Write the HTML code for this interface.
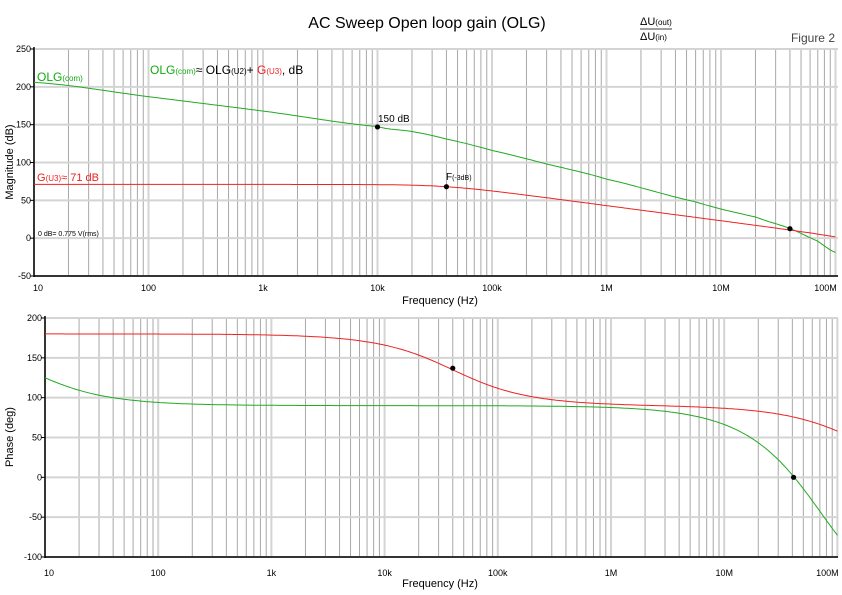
<!DOCTYPE html>
<html><head><meta charset="utf-8"><style>
body{margin:0;background:#fff}
svg{display:block;font-family:"Liberation Sans",Arial,sans-serif}
</style></head><body>
<svg id="s" width="842" height="595" viewBox="0 0 842 595" xmlns="http://www.w3.org/2000/svg">
<text x="427" y="28" font-size="16" text-anchor="middle">AC Sweep  Open loop gain (OLG)</text>
<text x="640" y="25" font-size="11">ΔU<tspan font-size="8">(out)</tspan></text>
<line x1="640" y1="29" x2="672" y2="29" stroke="#000" stroke-width="0.8"/>
<text x="640" y="40" font-size="11">ΔU<tspan font-size="8">(in)</tspan></text>
<text x="835" y="42" font-size="12" fill="#444" text-anchor="end">Figure 2</text>
<g id="g1"></g><g id="g2"></g>
<text x="440" y="304" font-size="11" text-anchor="middle">Frequency (Hz)</text>
<text x="440" y="587" font-size="11" text-anchor="middle">Frequency (Hz)</text>
<text transform="translate(13,162) rotate(-90)" font-size="11" text-anchor="middle">Magnitude (dB)</text>
<text transform="translate(13,437) rotate(-90)" font-size="11" text-anchor="middle">Phase (deg)</text>
<text x="37" y="81" font-size="12" fill="#1a1">OLG<tspan font-size="8">(com)</tspan></text>
<text x="150" y="74" font-size="12"><tspan fill="#1a1">OLG<tspan font-size="8">(com)</tspan></tspan>≈ OLG<tspan font-size="8">(U2)</tspan>+ <tspan fill="#e22">G<tspan font-size="8">(U3)</tspan></tspan>, dB</text>
<text x="37" y="181" font-size="11" fill="#e22">G<tspan font-size="8">(U3)</tspan>≈ 71 dB</text>
<text x="38" y="236" font-size="7">0 dB= 0.775 V(rms)</text>
<text x="378" y="122" font-size="10">150 dB</text>
<text x="446" y="180" font-size="10">F<tspan font-size="7">(-3dB)</tspan></text>
</svg>
<script>
var NS="http://www.w3.org/2000/svg";
function el(p,t,a){var e=document.createElementNS(NS,t);for(var k in a)e.setAttribute(k,a[k]);p.appendChild(e);return e;}
function plot(g,x0,dec,yt,yb,ymax,ymin,step,labs,xlabY,xlabs){
 var R=838;
 var X=f=>x0+Math.log10(f/10)*dec;
 var Y=v=>yt+(ymax-v)/(ymax-ymin)*(yb-yt);
 for(var d=0;d<8;d++)for(var m=1;m<10;m++){var f=10*Math.pow(10,d)*m;var x=X(f);if(x>R)break;
  el(g,'line',{x1:x,x2:x,y1:yt,y2:yb,stroke:m==1?'#d4d4d4':'#a8a8a8','stroke-width':m==1?2:1});}
 for(var v=ymin;v<=ymax;v+=step){el(g,'line',{x1:x0,x2:R,y1:Y(v),y2:Y(v),stroke:'#d4d4d4','stroke-width':2});
  el(g,'line',{x1:x0-4,x2:x0,y1:Y(v),y2:Y(v),stroke:'#000'});
  var t=el(g,'text',{x:x0-3,y:Y(v)+3,'font-size':9,'text-anchor':'end'});t.textContent=v;}
 el(g,'line',{x1:x0,x2:x0,y1:yt-2,y2:yb+1,stroke:'#000','stroke-width':1.5});
 el(g,'line',{x1:x0,x2:R,y1:yb,y2:yb,stroke:'#000','stroke-width':1.5});
 var xl=['10','100','1k','10k','100k','1M','10M','100M'];
 for(var i=0;i<8;i++){var t=el(g,'text',{x:X(10*Math.pow(10,i))+(i==0?4:i==7?-10:0),y:xlabY,'font-size':9,'text-anchor':'middle'});t.textContent=xl[i];}
 return {X:X,Y:Y,R:R};
}
function curve(g,ax,fn,col){var p=[];for(var i=0;i<=400;i++){var f=10*Math.pow(10,7*i/400);var x=ax.X(f);if(x>ax.R)break;p.push(x.toFixed(1)+','+ax.Y(fn(f)).toFixed(1));}
 el(g,'polyline',{points:p.join(' '),fill:'none',stroke:col,'stroke-width':1});}
function dot(g,ax,f,v){el(g,'circle',{cx:ax.X(f),cy:ax.Y(v),r:2.6,fill:'#000'});}
var g1=document.getElementById('g1'),g2=document.getElementById('g2');
var a1=plot(g1,34,114.5,49,276,250,-50,50,0,291);
var a2=plot(g2,45,113.2,318,557,200,-100,50,0,576);
var L=Math.log10;
var gp=[[10,206],[100,187],[1e3,168],[1e4,147.5],[2e4,141],[4e4,131],[1e5,116],[3e5,98],[1e6,78],[6e6,48],[2e7,28],[4e7,13],[7e7,-4],[1e8,-19],[1.1e8,-23]];
function interp(f){var x=L(f);for(var i=0;i<gp.length-1;i++){var a=L(gp[i][0]),b=L(gp[i+1][0]);if(x<=b){var t=(x-a)/(b-a);
 var p0=gp[Math.max(i-1,0)][1],p1=gp[i][1],p2=gp[i+1][1],p3=gp[Math.min(i+2,gp.length-1)][1];
 return 0.5*((2*p1)+(-p0+p2)*t+(2*p0-5*p1+4*p2-p3)*t*t+(-p0+3*p1-3*p2+p3)*t*t*t);}}return gp[gp.length-1][1];}
var redM=f=>71-10*L(1+Math.pow(f/4e4,2))-10*L(1+Math.pow(f/1.6e8,2));
var D=180/Math.PI;
var redP=f=>180-D*Math.atan(f/4e4)-D*Math.atan(f/1.6e8);
var grnP=f=>90+D*Math.atan(7/f)-3*D*Math.atan(f/7.2e7);
curve(g1,a1,interp,'#22aa22');curve(g1,a1,redM,'#ee2222');
curve(g2,a2,grnP,'#22aa22');curve(g2,a2,redP,'#ee2222');
dot(g1,a1,1e4,147);dot(g1,a1,4e4,68);dot(g1,a1,4e7,12.5);
dot(g2,a2,4e4,137);dot(g2,a2,4.1e7,0);
</script>
</body></html>
